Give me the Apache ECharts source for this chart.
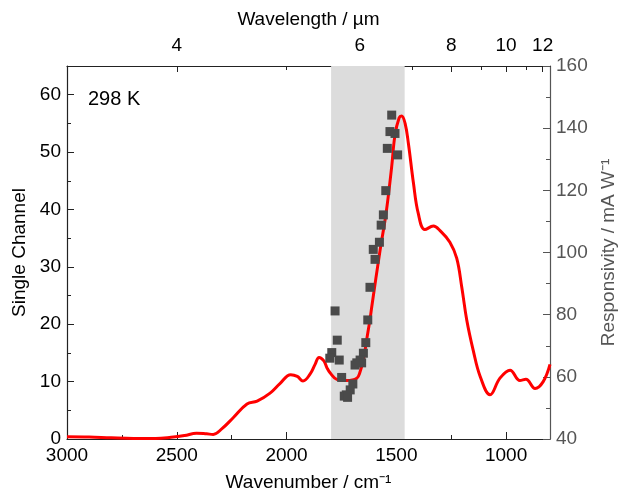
<!DOCTYPE html>
<html>
<head>
<meta charset="utf-8">
<script src="https://cdn.jsdelivr.net/npm/echarts@6/dist/echarts.min.js"></script>
<style>
  html, body { margin: 0; padding: 0; background: #fff; }
  #chart { width: 620px; height: 493px; }
</style>
</head>
<body>
<div id="chart"></div>
<script>
// single channel spectrum (red line), wavenumber in cm-1
const lineWn = [3000, 2899, 2798, 2697, 2596, 2526, 2465, 2410, 2364, 2334, 2294, 2243, 2180, 2134, 2075,
  2029, 1981, 1951, 1925, 1893, 1870, 1852, 1830, 1816, 1801, 1771, 1726, 1680, 1665, 1650, 1635, 1620,
  1612, 1574, 1551, 1536, 1521, 1506, 1487, 1476, 1460, 1445, 1422, 1400, 1370, 1331, 1301, 1256, 1225,
  1202, 1179, 1150, 1118, 1073, 1028, 982, 937, 910, 868, 831, 800];
const lineVal = [0.4, 0.35, 0.2, 0.1, 0.1, 0.3, 0.6, 1.0, 0.9, 0.8, 1.8, 3.7, 6.1, 6.6, 8.0,
  9.7, 11.2, 10.9, 10.1, 11.3, 13.0, 14.2, 13.6, 12.4, 11.5, 10.4, 10.2, 10.6, 11.7, 13.8, 17.3, 20.8,
  23.0, 32.9, 38.2, 42.5, 47.5, 53.0, 56.0, 56.3, 55.0, 51.5, 44.6, 39.3, 36.5, 37.1, 36.3, 34.3, 31.5,
  26.5, 20.7, 15.5, 10.9, 7.7, 10.6, 12.0, 10.2, 10.4, 8.8, 10.0, 13.0];

// responsivity points (grey squares)
const ptWn = [1521, 1529, 1506, 1541, 1494, 1548, 1559, 1569, 1577, 1605, 1597, 1620, 1779, 1630, 1769,
  1639, 1650, 1794, 1803, 1760, 1665, 1680, 1658, 1688, 1749, 1698, 1710, 1728, 1737, 1722];
const ptResp = [144.2, 138.9, 138.3, 133.5, 131.4, 119.9, 112.1, 108.8, 103.3, 101.0, 97.8, 88.8, 81.2, 78.3, 71.8,
  71.0, 67.6, 67.8, 66.0, 65.4, 65.4, 64.5, 64.5, 63.8, 59.8, 57.7, 55.8, 54.2, 53.8, 53.4];

// axis ticks
const wnMajor = [1000, 1500, 2000, 2500, 3000];
const wnMinor = [1250, 1750, 2250, 2750];
const lamMajor = [4, 6, 8, 10, 12];
const lamMinor = [5, 7, 9, 11];
const band = [1797, 1462];

const FONT = 'Liberation Sans, Arial, sans-serif';
const toWn = l => 10000 / l;

const baseX = {
  type: 'value', min: 800, max: 3000, inverse: true,
  splitLine: { show: false }
};

const chart = echarts.init(document.getElementById('chart'));
chart.setOption({
  animation: false,
  grid: { left: 67, right: 70, top: 66, bottom: 54, containLabel: false, outerBoundsMode: 'none' },
  textStyle: { fontFamily: FONT },
  xAxis: [
    Object.assign({}, baseX, {
      position: 'bottom',
      name: 'Wavenumber / cm\u207B\u00B9', nameLocation: 'middle', nameGap: 34,
      nameTextStyle: { fontSize: 19, color: '#000', fontFamily: FONT },
      axisLine: { lineStyle: { color: '#222', width: 1.2 } },
      axisTick: { inside: true, length: 7, customValues: wnMajor, lineStyle: { color: '#222' } },
      axisLabel: { customValues: wnMajor, fontSize: 19, color: '#000', margin: 7, fontFamily: FONT,
        formatter: v => String(v) }
    }),
    Object.assign({}, baseX, {
      position: 'bottom',
      axisLine: { show: false },
      axisTick: { inside: true, length: 4, customValues: wnMinor, lineStyle: { color: '#222' } },
      axisLabel: { show: false }
    }),
    Object.assign({}, baseX, {
      position: 'top',
      name: 'Wavelength / \u00B5m', nameLocation: 'middle', nameGap: 37,
      nameTextStyle: { fontSize: 19, color: '#000', fontFamily: FONT },
      axisLine: { lineStyle: { color: '#222', width: 1.2 } },
      axisTick: { inside: true, length: 6, customValues: lamMajor.map(toWn), lineStyle: { color: '#222' } },
      axisLabel: {
        customValues: lamMajor.map(toWn), fontSize: 19, color: '#000', margin: 11, fontFamily: FONT,
        formatter: v => String(Math.round(10000 / v))
      }
    }),
    Object.assign({}, baseX, {
      position: 'top',
      axisLine: { show: false },
      axisTick: { inside: true, length: 4, customValues: lamMinor.map(toWn), lineStyle: { color: '#222' } },
      axisLabel: { show: false }
    })
  ],
  yAxis: [
    {
      type: 'value', min: 0, max: 65, interval: 10, position: 'left',
      name: 'Single Channel', nameLocation: 'middle', nameGap: 38, nameRotate: 90,
      nameTextStyle: { fontSize: 19, color: '#000', fontFamily: FONT },
      splitLine: { show: false },
      axisLine: { show: true, lineStyle: { color: '#222', width: 1.2 } },
      axisTick: { show: true, inside: true, length: 7, lineStyle: { color: '#222' } },
      minorTick: { show: true, splitNumber: 2, length: 4, lineStyle: { color: '#222' } },
      axisLabel: { fontSize: 19, color: '#000', margin: 6, showMaxLabel: false, fontFamily: FONT }
    },
    {
      type: 'value', min: 40, max: 160, interval: 20, position: 'right',
      name: 'Responsivity / mA W\u207B\u00B9', nameLocation: 'middle', nameGap: 49, nameRotate: 90,
      nameTextStyle: { fontSize: 19, color: '#555', fontFamily: FONT },
      splitLine: { show: false },
      axisLine: { show: true, lineStyle: { color: '#555', width: 1.2 } },
      axisTick: { show: true, inside: true, length: 7, lineStyle: { color: '#555' } },
      minorTick: { show: true, splitNumber: 2, length: 4, lineStyle: { color: '#555' } },
      axisLabel: { fontSize: 19, color: '#555', margin: 6, fontFamily: FONT }
    }
  ],
  graphic: [{
    type: 'text', left: 88, top: 89,
    style: { text: '298 K', fontSize: 20, fill: '#000', fontFamily: FONT }
  }],
  series: [
    {
      type: 'line', xAxisIndex: 0, yAxisIndex: 0, smooth: 0.4, symbol: 'none', z: 3,
      lineStyle: { color: '#ff0000', width: 3 },
      data: lineWn.map((w, i) => [w, lineVal[i]]),
      markArea: {
        silent: true,
        itemStyle: { color: '#dcdcdc' },
        data: [[{ xAxis: band[0] }, { xAxis: band[1] }]]
      }
    },
    {
      type: 'scatter', xAxisIndex: 0, yAxisIndex: 1, symbol: 'rect', symbolSize: 9, z: 4,
      itemStyle: { color: '#4a4a4a', opacity: 1 },
      data: ptWn.map((w, i) => [w, ptResp[i]])
    }
  ]
});
</script>
</body>
</html>
